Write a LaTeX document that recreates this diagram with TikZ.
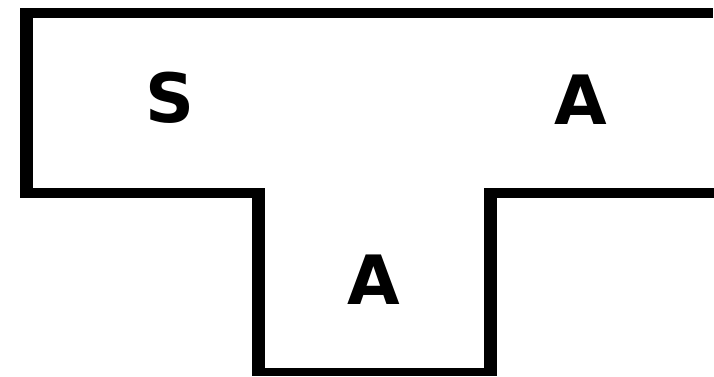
\documentclass[tikz,border=0pt]{standalone}
\usepackage{fontspec}
\newfontfamily\lblfont{DejaVu Sans}
\tikzset{
  wall/.style={fill=black, draw=none},
  letter/.style={inner sep=0pt, font=\lblfont\bfseries\fontsize{68}{68}\selectfont}
}
\begin{document}
\begin{tikzpicture}[x=1pt,y=-1pt]
\useasboundingbox (0,0) rectangle (714,376);
% outline of the T shape
\fill[wall] (20,8) rectangle (713,18);
\fill[wall] (20,8) rectangle (33,198);
\fill[wall] (20,188) rectangle (265,198);
\fill[wall] (252,188) rectangle (265,376);
\fill[wall] (252,368) rectangle (497,376);
\fill[wall] (484,188) rectangle (497,376);
\fill[wall] (484,188) rectangle (714,198);
% labels
\node[letter] (s) at (170,98) {S};
\node[letter] (a1) at (581,100) {A};
\node[letter] (a2) at (374,280) {A};
\end{tikzpicture}
\end{document}
